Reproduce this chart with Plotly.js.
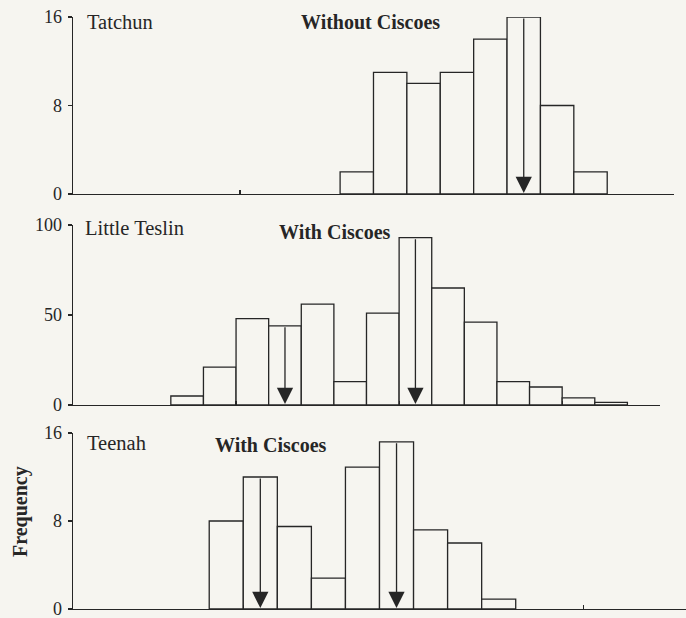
<!DOCTYPE html>
<html>
<head>
<meta charset="utf-8">
<script src="https://cdn.plot.ly/plotly-3.0.1.min.js"></script>
<style>
  html, body { margin: 0; padding: 0; background: #f6f5f0; }
  #chart { width: 686px; height: 618px; }
</style>
</head>
<body>
<div id="chart"></div>
<script>
// ---- Data (bin lower bounds, frequencies, modal bins marked by arrows) ----
const tatchunBins = [23, 24, 25, 26, 27, 28, 29, 30];
const tatchunFreq = [2, 11, 10, 11, 14, 16, 8, 2];
const tatchunModes = [28];

const littleTeslinBins = [18, 19, 20, 21, 22, 23, 24, 25, 26, 27, 28, 29, 30, 31];
const littleTeslinFreq = [5, 21, 48, 44, 56, 13, 51, 93, 65, 46, 13, 10, 4, 1.5];
const littleTeslinModes = [21, 25];

const teenahBins = [19, 20, 21, 22, 23, 24, 25, 26, 27];
const teenahFreq = [8, 12, 7.5, 2.8, 12.9, 15.2, 7.2, 6, 0.9];
const teenahModes = [20, 24];

const panelNames = ["Tatchun", "Little Teslin", "Teenah"];
const panelLabels = ["Without Ciscoes", "With Ciscoes", "With Ciscoes"];
const yTicks = [[0, 8, 16], [0, 50, 100], [0, 8, 16]];
const xTicks = [20, 25, 30];
const yAxisTitle = "Frequency";

// ---- Styling ----
const bg = "#f6f5f0";
const ink = "#262626";
const serif = "Liberation Serif, Times New Roman, serif";

const panels = [
  {bins: tatchunBins, freq: tatchunFreq, modes: tatchunModes},
  {bins: littleTeslinBins, freq: littleTeslinFreq, modes: littleTeslinModes},
  {bins: teenahBins, freq: teenahFreq, modes: teenahModes}
];

const yDomains = [[0.701, 1], [0.3446, 0.6486], [0, 0.2973]];
const xDomains = [[0, 0.9804], [0, 0.9576], [0, 1]];
const nameXY = [[15.36, 15.55], [15.31, 98.3], [15.35, 15.1]];
const labelXY = [[23.92, 15.55], [23.03, 96.1], [20.81, 14.92]];

const traces = [];
const annotations = [];
const layout = {
  width: 686, height: 618,
  margin: {l: 73, r: 0, t: 17, b: 9},
  paper_bgcolor: bg, plot_bgcolor: bg,
  showlegend: false,
  bargap: 0,
  font: {family: serif, color: ink, size: 18}
};

panels.forEach((p, i) => {
  const sfx = i === 0 ? "" : String(i + 1);
  const xa = "x" + sfx, ya = "y" + sfx;
  traces.push({
    type: "bar", x: p.bins, y: p.freq, width: 1, offset: 0,
    xaxis: xa, yaxis: ya,
    marker: {color: bg, line: {color: ink, width: 1.3}},
    hoverinfo: "x+y"
  });
  const yr = yTicks[i][yTicks[i].length - 1];
  layout["xaxis" + sfx] = {
    domain: xDomains[i], anchor: ya, range: [15, 33],
    showgrid: false, zeroline: false, showline: true, linecolor: ink, linewidth: 1.3,
    ticks: "inside", ticklen: 4, tickwidth: 1.2, tickcolor: ink,
    tickvals: xTicks, showticklabels: false, fixedrange: true
  };
  layout["yaxis" + sfx] = {
    domain: yDomains[i], anchor: xa, range: [0, yr],
    showgrid: false, zeroline: false, showline: true, linecolor: ink, linewidth: 1.3,
    ticks: "outside", ticklen: 4, tickwidth: 1.2, tickcolor: ink,
    tickvals: yTicks[i], ticktext: yTicks[i].map(String),
    ticklabeloverflow: "allow", ticklabelstandoff: 2,
    tickfont: {family: serif, size: 18, color: ink}, fixedrange: true
  };
  annotations.push({
    xref: xa, yref: ya, x: nameXY[i][0], y: nameXY[i][1],
    xanchor: "left", yanchor: "middle", showarrow: false,
    text: panelNames[i], font: {family: serif, size: 20.5, color: ink}
  });
  annotations.push({
    xref: xa, yref: ya, x: labelXY[i][0], y: labelXY[i][1],
    xanchor: "center", yanchor: "middle", showarrow: false,
    text: "<b>" + panelLabels[i] + "</b>", font: {family: serif, size: 20, color: ink}
  });
  p.modes.forEach(m => {
    const idx = p.bins.indexOf(m);
    annotations.push({
      xref: xa, yref: ya, x: m + 0.5, y: 0,
      axref: xa, ayref: ya, ax: m + 0.5, ay: p.freq[idx],
      text: "", showarrow: true, arrowhead: 2, arrowsize: 2.5, arrowwidth: 1.3,
      arrowcolor: ink, standoff: 1
    });
  });
});

annotations.push({
  xref: "paper", yref: "paper", x: -0.0848, y: 0.1639,
  xanchor: "center", yanchor: "middle", showarrow: false, textangle: -90,
  text: "<b>" + yAxisTitle + "</b>", font: {family: serif, size: 20, color: ink}
});
layout.annotations = annotations;

Plotly.newPlot("chart", traces, layout, {displayModeBar: false, staticPlot: true});
</script>
</body>
</html>
